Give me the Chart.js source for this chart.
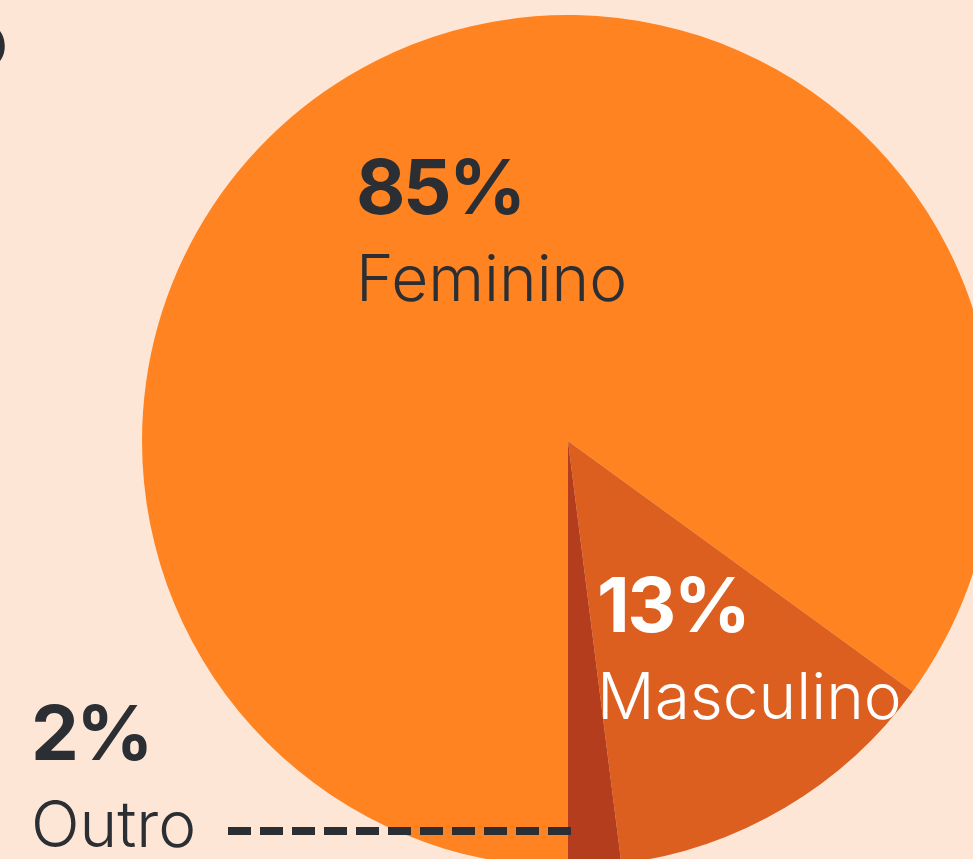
<!DOCTYPE html>
<html>
<head>
<meta charset="utf-8">
<script src="https://cdn.jsdelivr.net/npm/chart.js@4.4.1/dist/chart.umd.min.js"></script>
<style>
    html, body { margin: 0; padding: 0; width: 973px; height: 859px; overflow: hidden; background: #fde6d6; }
    body { position: relative; font-family: Inter, "Noto Sans", sans-serif; color: #2b2f33; }
    #pieHost { position: absolute; left: 142px; top: 15px; width: 852px; height: 852px; }
    .lbl { position: absolute; white-space: nowrap; line-height: 1; }
    .lbl .pct { font-weight: 700; font-size: 76px; letter-spacing: -2.5px; display: block; }
    .lbl .name { font-weight: 300; font-size: 64px; display: block; margin-top: 22px; }
    .cut { position: absolute; left: -40px; top: 0px; font-weight: 700; font-size: 78px; line-height: 1; }
</style>
</head>
<body>
<div class="cut">o</div>
<div id="pieHost"><canvas id="pieChart"></canvas></div>
<div id="labels"></div>
<script>
const categories = ['Feminino', 'Masculino', 'Outro'];
const shares = [85, 13, 2];
const sliceColors = ['#ff8320', '#dc5f20', '#b43d1e'];
const labelColors = ['#2b2f33', '#ffffff', '#2b2f33'];
const labelSpots = [[356, 148], [597, 566], [31, 694]];

const labelsEl = document.getElementById('labels');
categories.forEach((name, i) => {
    const div = document.createElement('div');
    div.className = 'lbl';
    div.style.left = labelSpots[i][0] + 'px';
    div.style.top = labelSpots[i][1] + 'px';
    div.style.color = labelColors[i];
    div.innerHTML = `<span class="pct">${shares[i]}%</span><span class="name">${name}</span>`;
    labelsEl.appendChild(div);
});

// dashed leader from the "Outro" label to its slice
const leader = {
    id: 'leader',
    afterDraw(chart) {
        const arc = chart.getDatasetMeta(0).data[2];
        const ctx = chart.ctx;
        const y = arc.y + 390;
        ctx.save();
        ctx.strokeStyle = '#2b2f33';
        ctx.lineWidth = 8;
        ctx.setLineDash([23, 9]);
        ctx.beginPath();
        ctx.moveTo(228 - 142, y);
        ctx.lineTo(arc.x + 5, y);
        ctx.stroke();
        ctx.restore();
    },
};

new Chart(document.getElementById('pieChart'), {
    type: 'pie',
    data: {
        labels: categories,
        datasets: [{
            data: shares,
            backgroundColor: sliceColors,
            borderWidth: 0,
        }],
    },
    options: {
        responsive: true,
        maintainAspectRatio: false,
        animation: false,
        rotation: 180,
        layout: { padding: 0 },
        plugins: { legend: { display: false }, tooltip: { enabled: false } },
    },
    plugins: [leader],
});
</script>
</body>
</html>
